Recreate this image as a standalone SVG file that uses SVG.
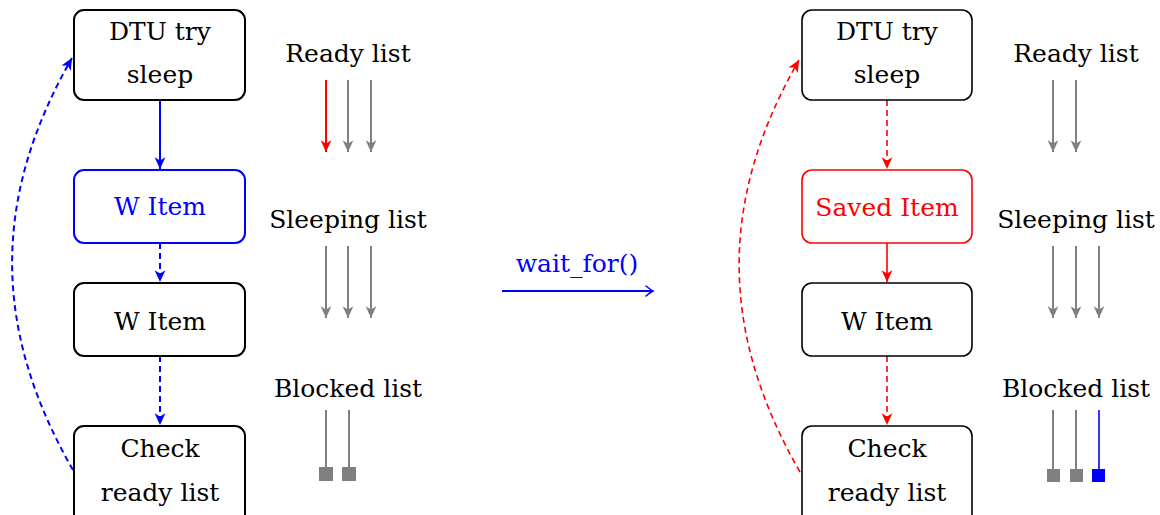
<svg xmlns="http://www.w3.org/2000/svg" width="1160" height="515" viewBox="0 0 1160 515">
<defs>
<style>
text{font-family:"DejaVu Serif","Liberation Serif",serif;font-size:25px;text-anchor:middle;fill:#000}
.box{fill:#fff;stroke:#000;stroke-width:2}
.boxR{fill:#fff;stroke:#000;stroke-width:1.6}
.blue{stroke:#0000ff}
.red{stroke:#ff0000}
.tb{fill:#0000ff}
.tr{fill:#ff0000}
.cb{fill:none;stroke:#0000ff;stroke-width:2}
.cr{fill:none;stroke:#ff0000;stroke-width:1.6}
.dash{stroke-dasharray:6,4}
.g{fill:none;stroke:#808080;stroke-width:2}
</style>
<marker id="ab" markerUnits="userSpaceOnUse" markerWidth="14" markerHeight="14" viewBox="-12 -6 13 12" refX="0" refY="0" orient="auto"><path d="M-11,-5 L0,0 L-11,5 L-8,0 z" fill="#0000ff"/></marker>
<marker id="ar" markerUnits="userSpaceOnUse" markerWidth="14" markerHeight="14" viewBox="-12 -6 13 12" refX="0" refY="0" orient="auto"><path d="M-11,-5 L0,0 L-11,5 L-8,0 z" fill="#ff0000"/></marker>
<marker id="ag" markerUnits="userSpaceOnUse" markerWidth="14" markerHeight="14" viewBox="-12 -6 13 12" refX="0" refY="0" orient="auto"><path d="M-11,-5 L0,0 L-11,5 L-8,0 z" fill="#808080"/></marker>
<marker id="ao" markerUnits="userSpaceOnUse" markerWidth="14" markerHeight="14" viewBox="-10 -7 12 14" refX="0" refY="0" orient="auto"><path d="M-7,-5 Q-2,-1 0,0 Q-2,1 -7,5" fill="none" stroke="#0000ff" stroke-width="1.6" stroke-linecap="round"/></marker>
</defs>

<g id="connectors">
<path class="cb" d="M160,100 V169" marker-end="url(#ab)"/>
<path class="cb dash" d="M160,243 V282" marker-end="url(#ab)"/>
<path class="cb dash" d="M160,356 V425" marker-end="url(#ab)"/>
<path class="cb dash" d="M73,470 C-7.5,330 -8.5,198 72,58" marker-end="url(#ab)"/>
<path class="cr dash" d="M887,100 V169" marker-end="url(#ar)"/>
<path class="cr" d="M887,243 V282" marker-end="url(#ar)"/>
<path class="cr dash" d="M887,356 V425" marker-end="url(#ar)"/>
<path class="cr dash" d="M800,472 C719.5,332 718.5,200 799,60" marker-end="url(#ar)"/>
<path d="M502,291 H653" fill="none" stroke="#0000ff" stroke-width="1.8" marker-end="url(#ao)"/>
</g>

<g id="left-nodes">
<g id="l-dtu"><rect class="box" x="74" y="10" width="171" height="90" rx="10"/><text x="160" y="40">DTU try</text><text x="160" y="83">sleep</text></g>
<g id="l-witem1"><rect class="box blue" x="74" y="170" width="171" height="73" rx="10"/><text class="tb" x="160" y="215">W Item</text></g>
<g id="l-witem2"><rect class="box" x="74" y="283" width="171" height="73" rx="10"/><text x="160" y="330">W Item</text></g>
<g id="l-check"><rect class="box" x="74" y="426" width="171" height="100" rx="10"/><text x="160" y="457">Check</text><text x="160" y="501">ready list</text></g>
</g>

<g id="left-lists">
<text x="348" y="62">Ready list</text>
<path d="M326,80 V152" fill="none" stroke="#ff0000" stroke-width="2" marker-end="url(#ar)"/>
<path class="g" d="M348,80 V152" marker-end="url(#ag)"/>
<path class="g" d="M371,80 V152" marker-end="url(#ag)"/>
<text x="348" y="228">Sleeping list</text>
<path class="g" d="M326,246 V318" marker-end="url(#ag)"/>
<path class="g" d="M348,246 V318" marker-end="url(#ag)"/>
<path class="g" d="M371,246 V318" marker-end="url(#ag)"/>
<text x="348" y="397">Blocked list</text>
<path class="g" d="M326,410 V468"/><rect x="319" y="467" width="14" height="14" fill="#808080"/>
<path class="g" d="M349,410 V468"/><rect x="342" y="467" width="14" height="14" fill="#808080"/>
</g>

<g id="wait-label"><text class="tb" x="577" y="272">wait_for()</text></g>

<g id="right-nodes">
<g id="r-dtu"><rect class="boxR" x="802" y="10" width="170" height="90" rx="10"/><text x="887" y="40">DTU try</text><text x="887" y="83">sleep</text></g>
<g id="r-saved"><rect class="boxR red" x="802" y="170" width="170" height="73" rx="10"/><text class="tr" x="887" y="216">Saved Item</text></g>
<g id="r-witem"><rect class="boxR" x="802" y="283" width="170" height="73" rx="10"/><text x="887" y="330">W Item</text></g>
<g id="r-check"><rect class="boxR" x="802" y="426" width="170" height="100" rx="10"/><text x="887" y="457">Check</text><text x="887" y="501">ready list</text></g>
</g>

<g id="right-lists">
<text x="1076" y="62">Ready list</text>
<path class="g" d="M1053,80 V152" stroke-width="1.6" marker-end="url(#ag)"/>
<path class="g" d="M1076,80 V152" stroke-width="1.6" marker-end="url(#ag)"/>
<text x="1076" y="228">Sleeping list</text>
<path class="g" d="M1053,246 V318" stroke-width="1.6" marker-end="url(#ag)"/>
<path class="g" d="M1076,246 V318" stroke-width="1.6" marker-end="url(#ag)"/>
<path class="g" d="M1099,246 V318" stroke-width="1.6" marker-end="url(#ag)"/>
<text x="1076" y="397">Blocked list</text>
<path class="g" d="M1053,410 V470" stroke-width="1.6"/><rect x="1047" y="469" width="13" height="13" fill="#808080"/>
<path class="g" d="M1076,410 V470" stroke-width="1.6"/><rect x="1070" y="469" width="13" height="13" fill="#808080"/>
<path d="M1099,410 V470" fill="none" stroke="#0000ff" stroke-width="1.6"/><rect x="1092" y="469" width="13" height="13" fill="#0000ff"/>
</g>
</svg>
